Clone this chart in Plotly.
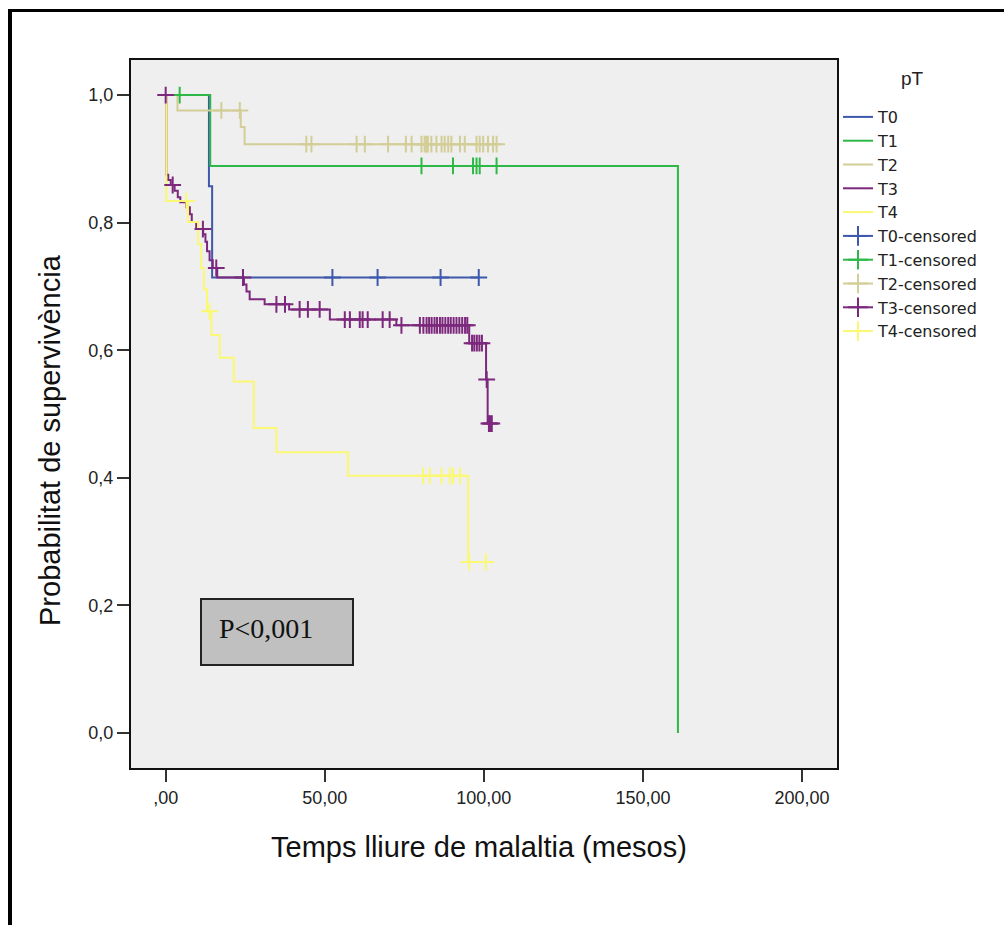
import plotly.graph_objects as go

# ---------------- data ----------------
groups = ["T0", "T1", "T2", "T3", "T4"]
colors = ["#3E58AC", "#2EB848", "#D3CE97", "#7C287D", "#FBF873"]

# Kaplan-Meier event times and survival after each event
t0_event_t = [13.6, 14.6]
t0_event_s = [0.857, 0.714]
t0_cens_t = [52.4, 66.6, 86.4, 98.4]

t1_event_t = [14.0, 161.0]
t1_event_s = [0.889, 0.0]
t1_cens_t = [4.4, 80.4, 90.3, 96.6, 97.7, 98.7, 104.0]

t2_event_t = [3.7, 23.6, 24.8]
t2_event_s = [0.976, 0.950, 0.923]
t2_cens_t = [17.5, 23.3, 44.2, 45.8, 60.0, 62.6, 69.9, 75.5, 77.3, 80.4, 81.4,
             81.9, 82.4, 83.5, 85.1, 86.7, 87.7, 88.8, 89.8, 92.5, 94.0, 97.7,
             98.7, 99.8, 101.3, 102.9, 104.0]

t3_event_t = [0.2, 0.8, 1.6, 2.8, 3.8, 4.6, 6.4, 7.6, 8.2, 9.6, 11.8, 12.5, 13.0,
              13.8, 14.8, 16.2, 24.6, 25.4, 26.4, 31.1, 38.8, 51.6, 72.5, 95.4,
              100.7, 101.2]
t3_event_s = [0.875, 0.867, 0.859, 0.850, 0.840, 0.832, 0.824, 0.813, 0.801,
              0.790, 0.782, 0.770, 0.755, 0.741, 0.729, 0.714, 0.703, 0.692,
              0.680, 0.672, 0.664, 0.648, 0.639, 0.611, 0.554, 0.485]
t3_cens_t = [0.0, 2.2, 11.7, 15.9, 24.3, 34.8, 37.5, 42.1, 44.7, 48.4, 56.3, 57.9,
             61.0, 61.9, 63.5, 68.2, 70.4, 74.1, 79.9, 81.0, 82.0, 82.8, 83.6,
             84.5, 85.3, 86.2, 87.0, 87.9, 88.8, 89.6, 90.5, 91.4, 92.3, 93.2,
             94.1, 94.8, 96.3, 97.0, 97.8, 98.6, 99.4, 100.9, 101.6, 102.0, 102.5]

t4_event_t = [0.2, 7.0, 10.2, 11.2, 12.0, 13.0, 14.4, 17.0, 21.4, 27.7, 34.8,
              57.3, 95.1]
t4_event_s = [0.834, 0.801, 0.766, 0.729, 0.695, 0.661, 0.624, 0.588, 0.551,
              0.478, 0.440, 0.403, 0.268]
t4_cens_t = [6.5, 13.8, 80.9, 83.0, 86.7, 89.3, 90.3, 92.5, 95.4, 100.6]

x_tickvals = [0, 50, 100, 150, 200]
x_ticktext = [",00", "50,00", "100,00", "150,00", "200,00"]
y_tickvals = [0.0, 0.2, 0.4, 0.6, 0.8, 1.0]
y_ticktext = ["0,0", "0,2", "0,4", "0,6", "0,8", "1,0"]

x_title = "Temps lliure de malaltia (mesos)"
y_title = "Probabilitat de supervivència"
legend_title = "pT"
p_text = "P<0,001"

series = [
    (t0_event_t, t0_event_s, t0_cens_t),
    (t1_event_t, t1_event_s, t1_cens_t),
    (t2_event_t, t2_event_s, t2_cens_t),
    (t3_event_t, t3_event_s, t3_cens_t),
    (t4_event_t, t4_event_s, t4_cens_t),
]

# ---------------- layout geometry (pixels) ----------------
W, H = 1004, 925
PL, PR, PT, PB = 131, 837, 60, 768  # plot area edges
pw, ph = PR - PL, PB - PT


def px_x(x):
    return (x - PL) / pw


def px_y(y):
    return (PB - y) / ph


def surv_at(ev_t, ev_s, t):
    s = 1.0
    for et, es in zip(ev_t, ev_s):
        if et <= t:
            s = es
    return s


fig = go.Figure()

# step curves
for name, col, (ev_t, ev_s, cens) in zip(groups, colors, series):
    end = max(max(cens), max(ev_t))
    xs = [0.0] + list(ev_t) + [end]
    ys = [1.0] + list(ev_s) + [ev_s[-1]]
    fig.add_trace(go.Scatter(x=xs, y=ys, mode="lines", name=name,
                             line=dict(color=col, width=2, shape="hv"),
                             hoverinfo="skip"))

# legend entries for censored
for name, col in zip(groups, colors):
    fig.add_trace(go.Scatter(x=[None], y=[None], mode="lines+markers",
                             name=f"{name}-censored",
                             line=dict(color=col, width=2),
                             marker=dict(symbol="cross-thin", size=14,
                                         line=dict(color=col, width=2))))

# censor markers
for name, col, (ev_t, ev_s, cens) in zip(groups, colors, series):
    cy = [surv_at(ev_t, ev_s, t) for t in cens]
    fig.add_trace(go.Scatter(x=cens, y=cy, mode="markers", showlegend=False,
                             marker=dict(symbol="cross-thin", size=12,
                                         line=dict(color=col, width=2)),
                             hoverinfo="skip"))

axis_common = dict(showgrid=False, zeroline=False, showline=True, mirror=True,
                   linecolor="#111111", linewidth=2, ticks="outside",
                   ticklen=12, tickwidth=1.5, tickcolor="#333333",
                   tickfont=dict(family="Liberation Sans", size=18, color="#222222"))

fig.update_layout(
    width=W, height=H,
    margin=dict(l=PL, r=W - PR, t=PT, b=H - PB),
    paper_bgcolor="white",
    plot_bgcolor="#EFEFEF",
    xaxis=dict(range=[-10.9, 211.0], tickvals=x_tickvals, ticktext=x_ticktext,
               **axis_common),
    yaxis=dict(range=[-0.055, 1.055], tickvals=y_tickvals, ticktext=y_ticktext,
               **axis_common),
    legend=dict(x=px_x(838), y=px_y(100), xanchor="left", yanchor="top",
                bgcolor="rgba(0,0,0,0)", borderwidth=0, tracegroupgap=0,
                font=dict(family="DejaVu Sans", size=16, color="#222222")),
    showlegend=True,
    annotations=[
        dict(text=legend_title, xref="paper", yref="paper", x=px_x(912), y=px_y(78),
             xanchor="center", yanchor="middle", showarrow=False,
             font=dict(family="Liberation Sans", size=19, color="#222222")),
        dict(text=x_title, xref="paper", yref="paper", x=px_x(479), y=px_y(847),
             xanchor="center", yanchor="middle", showarrow=False,
             font=dict(family="Liberation Sans", size=29, color="#111111")),
        dict(text=y_title, xref="paper", yref="paper", x=px_x(50), y=px_y(440),
             xanchor="center", yanchor="middle", showarrow=False, textangle=-90,
             font=dict(family="Liberation Sans", size=29, color="#111111")),
        dict(text=p_text, xref="paper", yref="paper", x=px_x(217), y=px_y(628),
             xanchor="left", yanchor="middle", showarrow=False,
             font=dict(family="Liberation Serif", size=28, color="#111111")),
    ],
    shapes=[
        dict(type="rect", xref="paper", yref="paper",
             x0=px_x(201), x1=px_x(353), y0=px_y(665), y1=px_y(599),
             fillcolor="#C0C0C0", line=dict(color="#222222", width=2), layer="above"),
        dict(type="line", xref="paper", yref="paper",
             x0=px_x(10), x1=px_x(10), y0=px_y(9), y1=px_y(930),
             line=dict(color="black", width=4)),
        dict(type="line", xref="paper", yref="paper",
             x0=px_x(8), x1=px_x(1010), y0=px_y(10.5), y1=px_y(10.5),
             line=dict(color="black", width=3)),
    ],
)

fig.write_html("out.html")
